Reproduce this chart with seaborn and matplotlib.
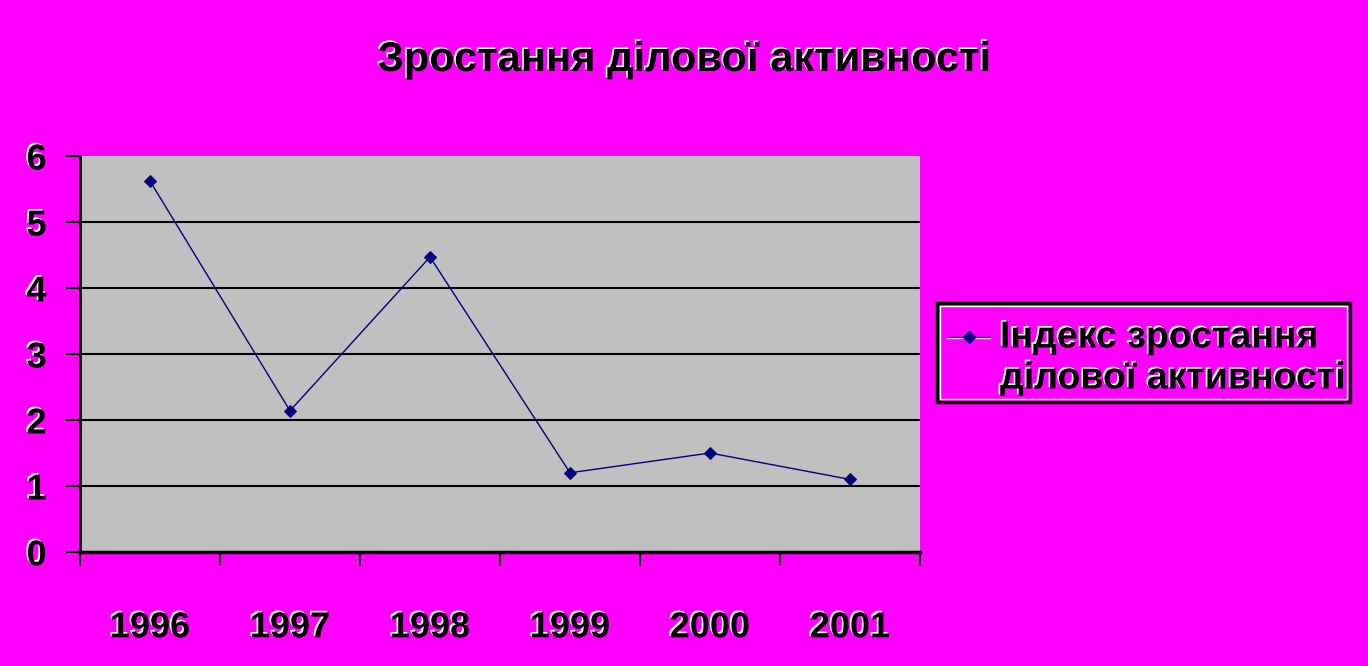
import matplotlib
matplotlib.use("Agg")
import matplotlib.pyplot as plt
import matplotlib.patheffects as pe
from matplotlib.patches import Rectangle
from matplotlib.ticker import FixedLocator
import seaborn as sns
import pandas as pd

years = ["1996", "1997", "1998", "1999", "2000", "2001"]
index_values = [5.62, 2.14, 4.47, 1.20, 1.50, 1.10]
title = "Зростання ділової активності"
series_name = "Індекс зростання\nділової активності"
y_ticks = [0, 1, 2, 3, 4, 5, 6]

MAGENTA = "#FF00FF"
GRAY = "#C0C0C0"
NAVY = "#000080"

sns.set_theme(style="white")
plt.rcParams["font.family"] = ["Liberation Sans", "DejaVu Sans"]
plt.rcParams["font.weight"] = "bold"

fig = plt.figure(figsize=(13.68, 6.66), dpi=100, facecolor=MAGENTA)
ax = fig.add_axes([80 / 1368, 114 / 666, 840 / 1368, 396 / 666])
ax.set_facecolor(GRAY)

df = pd.DataFrame({"year": years, "value": index_values})
sns.lineplot(data=df, x="year", y="value", ax=ax, color=NAVY, linewidth=1.0,
             marker="D", markersize=6, markeredgecolor=NAVY, markerfacecolor=NAVY,
             sort=False)

shadow = [pe.withSimplePatchShadow(offset=(-1.2, 1.2), shadow_rgbFace="white", alpha=1.0)]

ax.set_xlim(-0.5, len(years) - 0.5)
ax.set_ylim(y_ticks[0], y_ticks[-1])
ax.set_yticks(y_ticks)
ax.set_yticklabels([str(t) for t in y_ticks])
ax.set_xticks(range(len(years)))
ax.set_xticklabels(years)
ax.xaxis.set_minor_locator(FixedLocator([i - 0.5 for i in range(len(years) + 1)]))
ax.tick_params(axis="x", which="major", length=0, pad=42, labelsize=26, labelcolor="black")
ax.tick_params(axis="x", which="minor", length=10, width=1.5, color="black", direction="out", bottom=True)
ax.tick_params(axis="y", which="major", length=10, width=1.5, color="black", direction="out",
               left=True, pad=14, labelsize=26, labelcolor="black")
for lab in ax.get_xticklabels() + ax.get_yticklabels():
    lab.set_fontweight("bold")
    lab.set_path_effects(shadow)

ax.set_xlabel("")
ax.set_ylabel("")
ax.grid(axis="y", color="black", linewidth=1.5)
ax.grid(axis="x", visible=False)
glines = ax.get_ygridlines()
glines[-1].set_visible(False)
for s in ["top", "right"]:
    ax.spines[s].set_visible(False)
ax.spines["left"].set_color("black")
ax.spines["left"].set_linewidth(2)
ax.spines["bottom"].set_color("black")
ax.spines["bottom"].set_linewidth(2.5)

fig.text(0.5, 1 - 60 / 666, title, ha="center", va="center", fontsize=30,
         fontweight="bold", color="black", path_effects=shadow)

# legend
if ax.get_legend():
    ax.get_legend().remove()
lx0, ly0, lx1, ly1 = 937, 303, 1350, 402
fig.patches.append(Rectangle((lx0 / 1368, 1 - ly1 / 666), (lx1 - lx0) / 1368, (ly1 - ly0) / 666,
                             transform=fig.transFigure, facecolor=MAGENTA, edgecolor="black", linewidth=2.5))
fig.patches.append(Rectangle(((lx0 + 3) / 1368, 1 - (ly1 - 3) / 666), (lx1 - lx0 - 6) / 1368, (ly1 - ly0 - 6) / 666,
                             transform=fig.transFigure, facecolor="none", edgecolor="white", linewidth=1.0))
handle_y = 1 - 337 / 666
fig.add_artist(plt.Line2D([947 / 1368, 990 / 1368], [handle_y - 1.5 / 666, handle_y - 1.5 / 666],
                          transform=fig.transFigure, color="white", linewidth=1.0))
fig.add_artist(plt.Line2D([947 / 1368, 990 / 1368], [handle_y, handle_y], transform=fig.transFigure,
                          color=NAVY, linewidth=1.0))
fig.add_artist(plt.Line2D([968.5 / 1368], [handle_y], transform=fig.transFigure, color=NAVY,
                          marker="D", markersize=6, linestyle="none"))
fig.text(1000 / 1368, 1 - 358 / 666, series_name, ha="left", va="center", fontsize=27,
         fontweight="bold", color="black", linespacing=1.18, path_effects=shadow)

fig.savefig("out.png", dpi=100, facecolor=MAGENTA)
